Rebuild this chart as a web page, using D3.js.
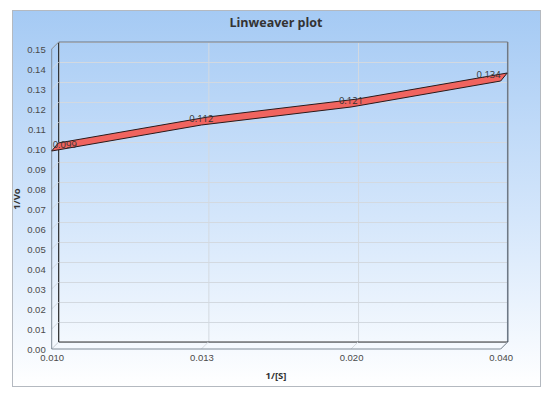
<!DOCTYPE html>
<html>
<head>
<meta charset="utf-8">
<script src="https://cdn.jsdelivr.net/npm/d3@7"></script>
<style>
  body { margin: 0; background: #fff; }
  svg { display: block; font-family: "Open Sans", "Noto Sans", sans-serif; }
</style>
</head>
<body>
<svg id="chart" width="560" height="412"></svg>
<script>
// data
var categories = ["0.010", "0.013", "0.020", "0.040"];
var values = [0.099, 0.112, 0.121, 0.134];
var yTicks = d3.range(0, 16).map(function(i) { return i / 100; });
var title = "Linweaver plot";
var xTitle = "1/[S]";
var yTitle = "1/Vo";

var svg = d3.select("#chart");

// 3d depth offset of the back wall
var depth = { x: 7, y: -7 };
var ribbonDepth = { x: 6.5, y: -8 };
var plot = { left: 51.7, right: 500.7, top: 49, bottom: 349 };

var xScale = d3.scalePoint().domain(categories).range([plot.left, plot.right]);
var yScale = d3.scaleLinear().domain([0, 0.15]).range([plot.bottom, plot.top]);

var defs = svg.append("defs");
var grad = defs.append("linearGradient").attr("id", "bg")
    .attr("x1", 0).attr("y1", 0).attr("x2", 0).attr("y2", 1);
grad.append("stop").attr("offset", "0%").attr("stop-color", "#a5caf4");
grad.append("stop").attr("offset", "55%").attr("stop-color", "#d4e6fb");
grad.append("stop").attr("offset", "100%").attr("stop-color", "#ffffff");

// chart box
svg.append("rect")
    .attr("x", 12.5).attr("y", 10.5).attr("width", 528).attr("height", 376)
    .attr("fill", "url(#bg)").attr("stroke", "#b4b9c0");

svg.append("text")
    .attr("x", 276).attr("y", 27)
    .attr("text-anchor", "middle")
    .style("font-size", "12.5px").style("font-weight", "bold").style("fill", "#333")
    .text(title);

var back = svg.append("g").attr("transform", "translate(" + depth.x + "," + depth.y + ")");

// back wall gridlines
var yAxisBack = back.append("g")
    .attr("transform", "translate(" + plot.left + ",0)")
    .call(d3.axisLeft(yScale).tickValues(yTicks).tickSize(-(plot.right - plot.left)).tickFormat(""));
yAxisBack.select(".domain").remove();
yAxisBack.selectAll(".tick line").attr("stroke", "#d3d9e0");

var xAxisBack = back.append("g")
    .attr("transform", "translate(0," + plot.top + ")")
    .call(d3.axisBottom(xScale).tickSize(plot.bottom - plot.top).tickFormat(""));
xAxisBack.select(".domain").remove();
xAxisBack.selectAll(".tick line").attr("stroke", "#d3d9e0");

// side wall diagonals
svg.append("g").selectAll("line.side")
    .data(yTicks)
    .enter().append("line")
    .attr("class", "side")
    .attr("x1", plot.left).attr("y1", function(d) { return yScale(d); })
    .attr("x2", plot.left + depth.x).attr("y2", function(d) { return yScale(d) + depth.y; })
    .attr("stroke", "#d3d9e0");

// floor diagonals
svg.append("g").selectAll("line.floor")
    .data(categories)
    .enter().append("line")
    .attr("class", "floor")
    .attr("x1", function(d) { return xScale(d); }).attr("y1", plot.bottom)
    .attr("x2", function(d) { return xScale(d) + depth.x; }).attr("y2", plot.bottom + depth.y)
    .attr("stroke", "#d3d9e0");

// back wall frame
back.append("line")
    .attr("x1", plot.left).attr("x2", plot.right)
    .attr("y1", plot.top).attr("y2", plot.top)
    .attr("stroke", "#6d7886");
back.append("line")
    .attr("x1", plot.right).attr("x2", plot.right)
    .attr("y1", plot.top).attr("y2", plot.bottom)
    .attr("stroke", "#6d7886").attr("stroke-width", 1.5);
back.append("line")
    .attr("x1", plot.left).attr("x2", plot.left)
    .attr("y1", plot.top).attr("y2", plot.bottom)
    .attr("stroke", "#111");
back.append("line")
    .attr("x1", plot.left).attr("x2", plot.right)
    .attr("y1", plot.bottom).attr("y2", plot.bottom)
    .attr("stroke", "#333");

// front edges
svg.append("path")
    .attr("d", "M" + (plot.left + depth.x) + "," + (plot.top + depth.y) +
        "L" + plot.left + "," + plot.top + "L" + plot.left + "," + plot.bottom +
        "L" + plot.right + "," + plot.bottom +
        "L" + (plot.right + depth.x) + "," + (plot.bottom + depth.y))
    .attr("fill", "none").attr("stroke", "#7f8a96");

// y axis labels
var yAxis = svg.append("g")
    .attr("transform", "translate(" + (plot.left - 3) + ",0)")
    .call(d3.axisLeft(yScale).tickValues(yTicks).tickSize(0).tickPadding(3).tickFormat(d3.format(".2f")));
yAxis.select(".domain").remove();
yAxis.selectAll("text").style("font-size", "9.5px").style("fill", "#4a4a4a").style("font-family", "inherit");

// x axis labels
var xAxis = svg.append("g")
    .attr("transform", "translate(0," + (plot.bottom + 2) + ")")
    .call(d3.axisBottom(xScale).tickSize(0).tickPadding(3));
xAxis.select(".domain").remove();
xAxis.selectAll("text").style("font-size", "9.5px").style("fill", "#4a4a4a").style("font-family", "inherit");

svg.append("text")
    .attr("x", 276).attr("y", 379)
    .attr("text-anchor", "middle")
    .style("font-size", "9.5px").style("font-weight", "bold").style("fill", "#333")
    .text(xTitle);

svg.append("text")
    .attr("transform", "translate(20," + ((plot.top + plot.bottom) / 2) + ") rotate(-90)")
    .attr("text-anchor", "middle")
    .style("font-size", "9.5px").style("font-weight", "bold").style("fill", "#333")
    .text(yTitle);

// 3d ribbon line
var pts = categories.map(function(c, i) { return [xScale(c), yScale(values[i])]; });
var ribbon = pts.concat(pts.slice().reverse().map(function(p) { return [p[0] + ribbonDepth.x, p[1] + ribbonDepth.y]; }));
svg.append("path")
    .attr("d", "M" + ribbon.map(function(p) { return p.join(","); }).join("L") + "Z")
    .attr("fill", "#f0645f").attr("stroke", "#2a1a1a").attr("stroke-width", 1)
    .attr("stroke-linejoin", "round");

// value labels
var labels = svg.append("g").selectAll("text.val")
    .data(values)
    .enter().append("text")
    .attr("class", "val")
    .attr("y", function(d) { return yScale(d) - 3; })
    .style("font-size", "9.5px").style("fill", "#333")
    .text(function(d) { return d3.format(".3f")(d); });
labels.each(function(d, i) {
    var w = this.getComputedTextLength();
    var x = xScale(categories[i]) - w / 2;
    x = Math.max(plot.left + 1, Math.min(plot.right - w, x));
    d3.select(this).attr("x", x);
});
</script>
</body>
</html>
